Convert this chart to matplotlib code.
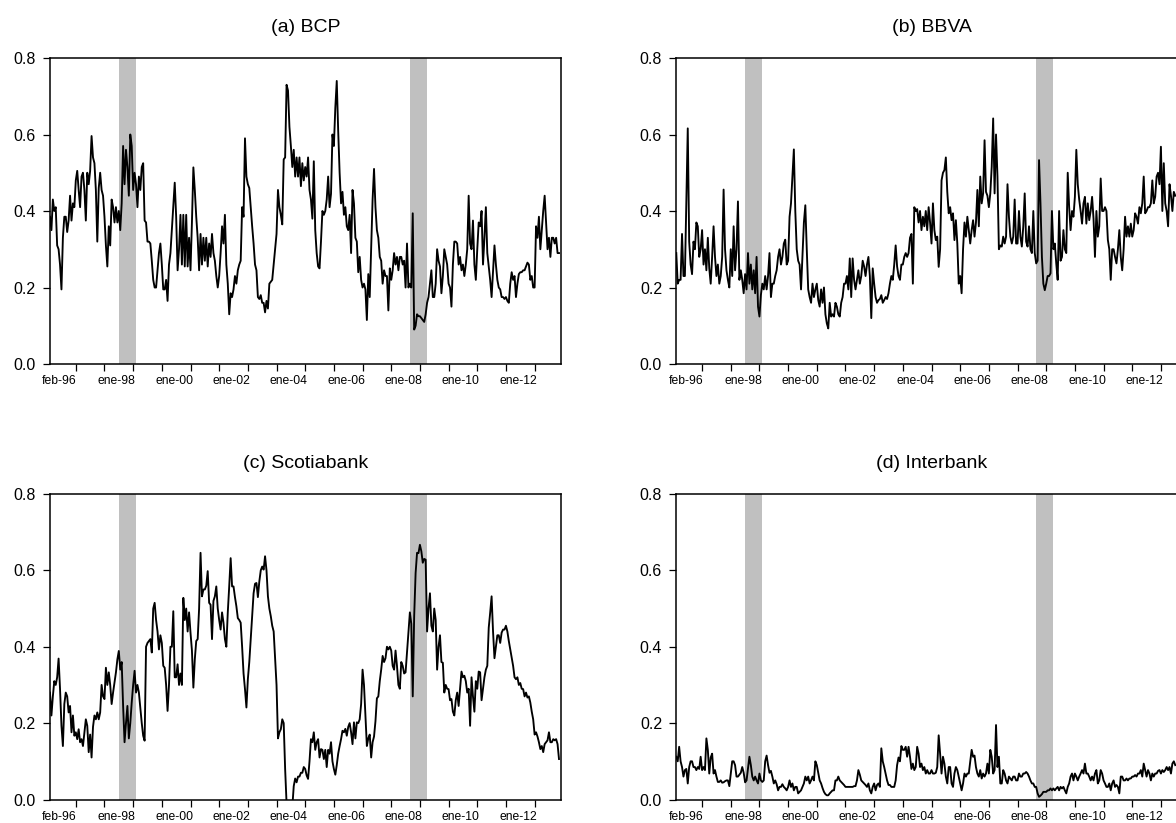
import numpy as np
import matplotlib
matplotlib.use("Agg")
import matplotlib.pyplot as plt

plt.rcParams['font.family'] = ['Liberation Sans', 'DejaVu Sans']

# ---------------- data (decimal-year grid: START + STEP*i) ----------------
START = 1996.10
STEP = 0.05

titles = ["(a) BCP", "(b) BBVA", "(c) Scotiabank", "(d) Interbank"]

bcp = [
    # 1996
    0.385, 0.35, 0.43, 0.40, 0.41, 0.31, 0.30, 0.26, 0.195, 0.33, 0.385, 0.385, 0.345, 0.375, 0.44, 0.375, 0.42, 0.41,
    # 1997
    0.48, 0.505, 0.455, 0.41, 0.49, 0.50, 0.455, 0.375, 0.50, 0.47, 0.505, 0.596, 0.54, 0.525, 0.455, 0.32, 0.46, 0.50, 0.455, 0.44,
    # 1998
    0.385, 0.31, 0.255, 0.36, 0.31, 0.43, 0.41, 0.37, 0.41, 0.37, 0.40, 0.35, 0.42, 0.57, 0.47, 0.56, 0.515, 0.44, 0.60, 0.57,
    # 1999
    0.455, 0.50, 0.47, 0.41, 0.49, 0.455, 0.515, 0.525, 0.375, 0.37, 0.32, 0.32, 0.315, 0.27, 0.22, 0.20, 0.20, 0.245, 0.29, 0.315,
    # 2000
    0.26, 0.195, 0.195, 0.22, 0.165, 0.26, 0.29, 0.35, 0.41, 0.474, 0.385, 0.245, 0.30, 0.39, 0.26, 0.39, 0.255, 0.39, 0.255, 0.33,
    # 2001
    0.245, 0.37, 0.514, 0.455, 0.385, 0.33, 0.245, 0.34, 0.26, 0.33, 0.27, 0.33, 0.255, 0.315, 0.28, 0.34, 0.29, 0.27, 0.23, 0.20,
    # 2002
    0.23, 0.29, 0.36, 0.315, 0.39, 0.26, 0.21, 0.13, 0.185, 0.175, 0.195, 0.23, 0.21, 0.245, 0.26, 0.27, 0.41, 0.385, 0.59, 0.49,
    # 2003
    0.47, 0.46, 0.41, 0.36, 0.315, 0.26, 0.245, 0.175, 0.17, 0.18, 0.16, 0.16, 0.135, 0.165, 0.145, 0.21, 0.215, 0.22, 0.26, 0.30,
    # 2004
    0.34, 0.455, 0.41, 0.39, 0.365, 0.535, 0.54, 0.73, 0.715, 0.62, 0.57, 0.515, 0.56, 0.49, 0.54, 0.49, 0.54, 0.465, 0.525, 0.48,
    # 2005
    0.515, 0.49, 0.54, 0.455, 0.43, 0.38, 0.53, 0.35, 0.29, 0.255, 0.25, 0.32, 0.40, 0.39, 0.40, 0.43, 0.49, 0.41, 0.445, 0.60,
    # 2006
    0.57, 0.67, 0.74, 0.61, 0.50, 0.42, 0.45, 0.39, 0.41, 0.36, 0.35, 0.39, 0.29, 0.455, 0.42, 0.33, 0.32, 0.24, 0.28, 0.22,
    # 2007
    0.20, 0.21, 0.195, 0.115, 0.235, 0.175, 0.30, 0.43, 0.51, 0.41, 0.35, 0.33, 0.28, 0.27, 0.21, 0.245, 0.23, 0.23, 0.14, 0.25,
    # 2008
    0.22, 0.245, 0.29, 0.26, 0.28, 0.245, 0.28, 0.28, 0.26, 0.27, 0.20, 0.315, 0.20, 0.21, 0.20, 0.394, 0.09, 0.10, 0.13, 0.125,
    # 2009
    0.125, 0.12, 0.115, 0.11, 0.13, 0.16, 0.175, 0.21, 0.245, 0.175, 0.175, 0.21, 0.30, 0.27, 0.255, 0.185, 0.23, 0.30, 0.28, 0.26,
    # 2010
    0.21, 0.20, 0.15, 0.26, 0.32, 0.32, 0.315, 0.26, 0.28, 0.245, 0.26, 0.23, 0.26, 0.30, 0.44, 0.315, 0.30, 0.375, 0.26, 0.22,
    # 2011
    0.30, 0.37, 0.36, 0.40, 0.26, 0.33, 0.41, 0.29, 0.255, 0.22, 0.175, 0.24, 0.31, 0.26, 0.22, 0.20, 0.195, 0.175, 0.175, 0.17,
    # 2012
    0.175, 0.165, 0.16, 0.21, 0.24, 0.22, 0.23, 0.175, 0.21, 0.235, 0.24, 0.24, 0.245, 0.245, 0.255, 0.265, 0.26, 0.22, 0.23, 0.20,
    # 2013
    0.20, 0.36, 0.33, 0.385, 0.30, 0.35, 0.40, 0.44, 0.37, 0.30, 0.33, 0.28, 0.33, 0.33, 0.315, 0.33, 0.29, 0.29,
]

bbva = [
    # 1996
    0.29, 0.21, 0.22, 0.22, 0.34, 0.23, 0.23, 0.42, 0.616, 0.32, 0.26, 0.235, 0.32, 0.30, 0.37, 0.36, 0.28, 0.30,
    # 1997
    0.35, 0.26, 0.30, 0.245, 0.33, 0.25, 0.21, 0.28, 0.36, 0.28, 0.23, 0.26, 0.21, 0.23, 0.28, 0.456, 0.30, 0.245, 0.22, 0.20,
    # 1998
    0.30, 0.23, 0.36, 0.245, 0.30, 0.425, 0.22, 0.245, 0.22, 0.185, 0.235, 0.195, 0.29, 0.21, 0.26, 0.195, 0.245, 0.185, 0.28, 0.15,
    # 1999
    0.124, 0.18, 0.21, 0.195, 0.23, 0.195, 0.23, 0.29, 0.175, 0.21, 0.21, 0.23, 0.245, 0.28, 0.30, 0.26, 0.28, 0.315, 0.325, 0.26,
    # 2000
    0.27, 0.385, 0.42, 0.49, 0.561, 0.40, 0.30, 0.27, 0.26, 0.195, 0.28, 0.37, 0.415, 0.30, 0.195, 0.175, 0.16, 0.21, 0.175, 0.195,
    # 2001
    0.21, 0.167, 0.15, 0.195, 0.16, 0.20, 0.13, 0.106, 0.093, 0.16, 0.124, 0.13, 0.124, 0.16, 0.15, 0.13, 0.124, 0.16, 0.175, 0.21,
    # 2002
    0.21, 0.23, 0.195, 0.276, 0.175, 0.276, 0.22, 0.195, 0.22, 0.245, 0.21, 0.23, 0.27, 0.255, 0.23, 0.26, 0.28, 0.23, 0.12, 0.25,
    # 2003
    0.21, 0.175, 0.16, 0.167, 0.17, 0.18, 0.16, 0.167, 0.175, 0.17, 0.185, 0.21, 0.23, 0.22, 0.26, 0.31, 0.255, 0.23, 0.22, 0.26,
    # 2004
    0.26, 0.28, 0.29, 0.28, 0.29, 0.33, 0.34, 0.21, 0.41, 0.40, 0.405, 0.37, 0.40, 0.35, 0.385, 0.36, 0.40, 0.35, 0.41, 0.37,
    # 2005
    0.315, 0.42, 0.35, 0.324, 0.333, 0.254, 0.30, 0.48, 0.50, 0.507, 0.54, 0.45, 0.394, 0.41, 0.376, 0.394, 0.324, 0.376, 0.315, 0.21,
    # 2006
    0.23, 0.185, 0.30, 0.37, 0.333, 0.385, 0.35, 0.315, 0.35, 0.376, 0.333, 0.37, 0.455, 0.36, 0.49, 0.42, 0.446, 0.585, 0.45, 0.44,
    # 2007
    0.41, 0.446, 0.516, 0.642, 0.446, 0.60, 0.49, 0.30, 0.31, 0.307, 0.333, 0.315, 0.333, 0.47, 0.385, 0.333, 0.315, 0.333, 0.43, 0.315,
    # 2008
    0.315, 0.40, 0.333, 0.307, 0.36, 0.446, 0.32, 0.307, 0.36, 0.30, 0.29, 0.40, 0.29, 0.263, 0.27, 0.533, 0.42, 0.28, 0.21, 0.193,
    # 2009
    0.21, 0.23, 0.23, 0.237, 0.40, 0.30, 0.315, 0.263, 0.22, 0.40, 0.27, 0.28, 0.35, 0.30, 0.29, 0.50, 0.41, 0.35, 0.40, 0.385,
    # 2010
    0.437, 0.56, 0.47, 0.43, 0.40, 0.367, 0.42, 0.437, 0.367, 0.42, 0.376, 0.40, 0.437, 0.38, 0.28, 0.40, 0.333, 0.36, 0.485, 0.40,
    # 2011
    0.40, 0.41, 0.40, 0.324, 0.30, 0.22, 0.30, 0.30, 0.28, 0.263, 0.30, 0.35, 0.28, 0.245, 0.30, 0.385, 0.333, 0.36, 0.333, 0.367,
    # 2012
    0.333, 0.35, 0.394, 0.385, 0.367, 0.41, 0.394, 0.42, 0.49, 0.394, 0.40, 0.41, 0.41, 0.42, 0.48, 0.42, 0.437, 0.49, 0.50, 0.47,
    # 2013
    0.568, 0.40, 0.525, 0.42, 0.40, 0.36, 0.47, 0.44, 0.40, 0.45, 0.44,
]

scotiabank = [
    # 1996
    0.28, 0.22, 0.27, 0.31, 0.30, 0.32, 0.369, 0.29, 0.193, 0.14, 0.25, 0.28, 0.27, 0.228, 0.245, 0.176, 0.22, 0.167,
    # 1997
    0.176, 0.158, 0.184, 0.15, 0.158, 0.14, 0.176, 0.21, 0.193, 0.124, 0.17, 0.11, 0.19, 0.22, 0.21, 0.228, 0.21, 0.228, 0.30, 0.27,
    # 1998
    0.263, 0.345, 0.30, 0.333, 0.30, 0.25, 0.28, 0.307, 0.333, 0.367, 0.389, 0.34, 0.36, 0.245, 0.15, 0.20, 0.245, 0.16, 0.20, 0.254,
    # 1999
    0.30, 0.337, 0.28, 0.30, 0.28, 0.24, 0.20, 0.167, 0.154, 0.40, 0.41, 0.415, 0.42, 0.385, 0.50, 0.515, 0.47, 0.44, 0.393, 0.43,
    # 2000
    0.41, 0.35, 0.345, 0.30, 0.232, 0.30, 0.40, 0.40, 0.493, 0.32, 0.32, 0.354, 0.30, 0.33, 0.30, 0.528, 0.47, 0.50, 0.44, 0.49,
    # 2001
    0.437, 0.39, 0.293, 0.367, 0.415, 0.42, 0.50, 0.646, 0.532, 0.55, 0.55, 0.56, 0.598, 0.515, 0.51, 0.42, 0.52, 0.532, 0.558, 0.50,
    # 2002
    0.47, 0.445, 0.49, 0.463, 0.42, 0.40, 0.49, 0.558, 0.632, 0.558, 0.558, 0.53, 0.506, 0.475, 0.47, 0.463, 0.40, 0.33, 0.289, 0.241,
    # 2003
    0.315, 0.36, 0.42, 0.48, 0.54, 0.565, 0.567, 0.53, 0.571, 0.60, 0.61, 0.602, 0.637, 0.60, 0.532, 0.50, 0.48, 0.455, 0.44, 0.37,
    # 2004
    0.30, 0.16, 0.176, 0.184, 0.21, 0.20, 0.08, -0.01, -0.05, -0.08, -0.06, -0.02, 0.035, 0.055, 0.045, 0.06, 0.06, 0.07, 0.07, 0.085,
    # 2005
    0.08, 0.063, 0.054, 0.10, 0.158, 0.15, 0.176, 0.13, 0.15, 0.158, 0.11, 0.132, 0.13, 0.106, 0.13, 0.085, 0.13, 0.12, 0.15, 0.10,
    # 2006
    0.08, 0.065, 0.09, 0.12, 0.14, 0.158, 0.18, 0.176, 0.185, 0.167, 0.19, 0.20, 0.176, 0.145, 0.202, 0.16, 0.202, 0.20, 0.21, 0.25,
    # 2007
    0.34, 0.30, 0.22, 0.14, 0.16, 0.17, 0.11, 0.15, 0.165, 0.205, 0.265, 0.27, 0.31, 0.34, 0.376, 0.36, 0.37, 0.40, 0.393, 0.40,
    # 2008
    0.39, 0.35, 0.34, 0.39, 0.35, 0.30, 0.29, 0.36, 0.35, 0.33, 0.333, 0.385, 0.44, 0.49, 0.46, 0.27, 0.48, 0.593, 0.646, 0.645,
    # 2009
    0.667, 0.65, 0.62, 0.63, 0.628, 0.44, 0.50, 0.54, 0.455, 0.44, 0.50, 0.47, 0.34, 0.40, 0.43, 0.36, 0.358, 0.28, 0.30, 0.29,
    # 2010
    0.289, 0.26, 0.263, 0.23, 0.22, 0.26, 0.28, 0.245, 0.29, 0.335, 0.32, 0.324, 0.31, 0.28, 0.29, 0.193, 0.32, 0.27, 0.23, 0.31,
    # 2011
    0.29, 0.335, 0.333, 0.26, 0.289, 0.32, 0.34, 0.35, 0.45, 0.489, 0.532, 0.44, 0.37, 0.40, 0.43, 0.43, 0.41, 0.437, 0.445, 0.445,
    # 2012
    0.455, 0.44, 0.415, 0.393, 0.37, 0.35, 0.32, 0.315, 0.32, 0.30, 0.305, 0.29, 0.289, 0.27, 0.28, 0.267, 0.27, 0.254, 0.23, 0.21,
    # 2013
    0.17, 0.176, 0.165, 0.15, 0.132, 0.14, 0.124, 0.145, 0.15, 0.155, 0.176, 0.15, 0.15, 0.158, 0.155, 0.158, 0.145, 0.106,
]

interbank = [
    # 1996
    0.112, 0.10, 0.138, 0.10, 0.085, 0.06, 0.077, 0.08, 0.042, 0.085, 0.10, 0.10, 0.085, 0.085, 0.077, 0.085, 0.08, 0.112,
    # 1997
    0.077, 0.085, 0.077, 0.16, 0.13, 0.068, 0.11, 0.12, 0.068, 0.077, 0.06, 0.046, 0.046, 0.05, 0.044, 0.045, 0.048, 0.05, 0.05, 0.035,
    # 1998
    0.068, 0.10, 0.10, 0.09, 0.06, 0.06, 0.065, 0.07, 0.085, 0.07, 0.045, 0.05, 0.08, 0.112, 0.09, 0.06, 0.05, 0.06, 0.05, 0.042,
    # 1999
    0.068, 0.05, 0.046, 0.05, 0.10, 0.115, 0.09, 0.07, 0.075, 0.06, 0.042, 0.05, 0.04, 0.024, 0.033, 0.033, 0.04, 0.033, 0.029, 0.024,
    # 2000
    0.033, 0.05, 0.033, 0.042, 0.024, 0.033, 0.033, 0.016, 0.02, 0.024, 0.033, 0.042, 0.06, 0.05, 0.06, 0.042, 0.05, 0.06, 0.05, 0.10,
    # 2001
    0.09, 0.07, 0.05, 0.042, 0.03, 0.02, 0.014, 0.011, 0.011, 0.016, 0.02, 0.024, 0.024, 0.05, 0.05, 0.06, 0.05, 0.046, 0.042, 0.038,
    # 2002
    0.033, 0.033, 0.033, 0.033, 0.033, 0.033, 0.035, 0.035, 0.05, 0.077, 0.065, 0.05, 0.046, 0.042, 0.038, 0.033, 0.042, 0.024, 0.016, 0.033,
    # 2003
    0.042, 0.024, 0.038, 0.042, 0.033, 0.134, 0.10, 0.085, 0.068, 0.05, 0.038, 0.038, 0.033, 0.033, 0.033, 0.05, 0.09, 0.11, 0.10, 0.14,
    # 2004
    0.13, 0.13, 0.138, 0.112, 0.138, 0.112, 0.08, 0.094, 0.077, 0.085, 0.138, 0.12, 0.085, 0.094, 0.077, 0.085, 0.068, 0.077, 0.068, 0.068,
    # 2005
    0.077, 0.068, 0.068, 0.07, 0.085, 0.168, 0.12, 0.068, 0.112, 0.094, 0.06, 0.042, 0.085, 0.085, 0.042, 0.033, 0.068, 0.085, 0.077, 0.06,
    # 2006
    0.042, 0.024, 0.042, 0.068, 0.06, 0.068, 0.068, 0.10, 0.13, 0.112, 0.115, 0.085, 0.068, 0.06, 0.077, 0.055, 0.068, 0.06, 0.068, 0.094,
    # 2007
    0.068, 0.13, 0.112, 0.068, 0.077, 0.195, 0.085, 0.112, 0.042, 0.042, 0.077, 0.068, 0.05, 0.042, 0.06, 0.055, 0.05, 0.06, 0.06, 0.05,
    # 2008
    0.05, 0.068, 0.06, 0.06, 0.068, 0.068, 0.072, 0.068, 0.06, 0.05, 0.042, 0.042, 0.033, 0.033, 0.016, 0.007, 0.01, 0.014, 0.02, 0.02,
    # 2009
    0.02, 0.024, 0.024, 0.029, 0.024, 0.029, 0.024, 0.029, 0.033, 0.024, 0.033, 0.029, 0.033, 0.024, 0.016, 0.033, 0.042, 0.06, 0.068, 0.05,
    # 2010
    0.068, 0.06, 0.05, 0.06, 0.068, 0.077, 0.068, 0.094, 0.068, 0.068, 0.06, 0.05, 0.06, 0.05, 0.068, 0.077, 0.042, 0.05, 0.077, 0.068,
    # 2011
    0.05, 0.042, 0.033, 0.033, 0.042, 0.024, 0.042, 0.05, 0.033, 0.038, 0.033, 0.016, 0.06, 0.06, 0.05, 0.05, 0.055, 0.05, 0.055, 0.055,
    # 2012
    0.06, 0.06, 0.064, 0.06, 0.068, 0.068, 0.077, 0.06, 0.094, 0.077, 0.06, 0.077, 0.068, 0.05, 0.068, 0.06, 0.068, 0.068, 0.075, 0.077,
    # 2013
    0.068, 0.077, 0.072, 0.077, 0.085, 0.077, 0.085, 0.068, 0.094, 0.10, 0.09,
]

crisis_periods = [(1998.51, 1999.10), (2008.66, 2009.24)]
xlim = (1996.09, 2013.92)
year_ticks = list(range(1997, 2014))
label_years = [1996, 1998, 2000, 2002, 2004, 2006, 2008, 2010, 2012]
label_texts = ["feb-96", "ene-98", "ene-00", "ene-02", "ene-04", "ene-06", "ene-08", "ene-10", "ene-12"]
y_ticks = [0.0, 0.2, 0.4, 0.6, 0.8]
y_labels = ["0.0", "0.2", "0.4", "0.6", "0.8"]

series = [bcp, bbva, scotiabank, interbank]

# ---------------- figure ----------------
W, H = 1176, 823
fig = plt.figure(figsize=(W / 100, H / 100), dpi=100)

# axes boxes in pixels: (left, top, width, height)
boxes = [(49.7, 58, 511.3, 306), (676, 58, 511.3, 306),
         (49.7, 494, 511.3, 305.5), (676, 494, 511.3, 305.5)]

for vals, title, (l, t, w, h) in zip(series, titles, boxes):
    ax = fig.add_axes([l / W, 1 - (t + h) / H, w / W, h / H])
    x = START + STEP * np.arange(len(vals))
    for a, b in crisis_periods:
        ax.axvspan(a, b, color="#c0c0c0", lw=0, zorder=0)
    ax.plot(x, vals, color="black", lw=1.35, zorder=2)
    ax.set_xlim(*xlim)
    ax.set_ylim(0, 0.8)
    ax.set_yticks(y_ticks, y_labels)
    ax.set_xticks(year_ticks, [""] * len(year_ticks))
    ax.set_xticks([yr + 0.43 for yr in label_years], label_texts, minor=True)
    ax.tick_params(axis="y", which="major", direction="out", length=5, width=0.9,
                   labelsize=11.5, pad=5, colors="black")
    ax.tick_params(axis="x", which="major", direction="out", length=5, width=0.9)
    ax.tick_params(axis="x", which="minor", length=0, labelsize=8.7, pad=8)
    for sp in ax.spines.values():
        sp.set_linewidth(1.1)
        sp.set_color("black")
    ax.set_title(title, fontsize=14, pad=19)

fig.savefig("out.png", dpi=100)
